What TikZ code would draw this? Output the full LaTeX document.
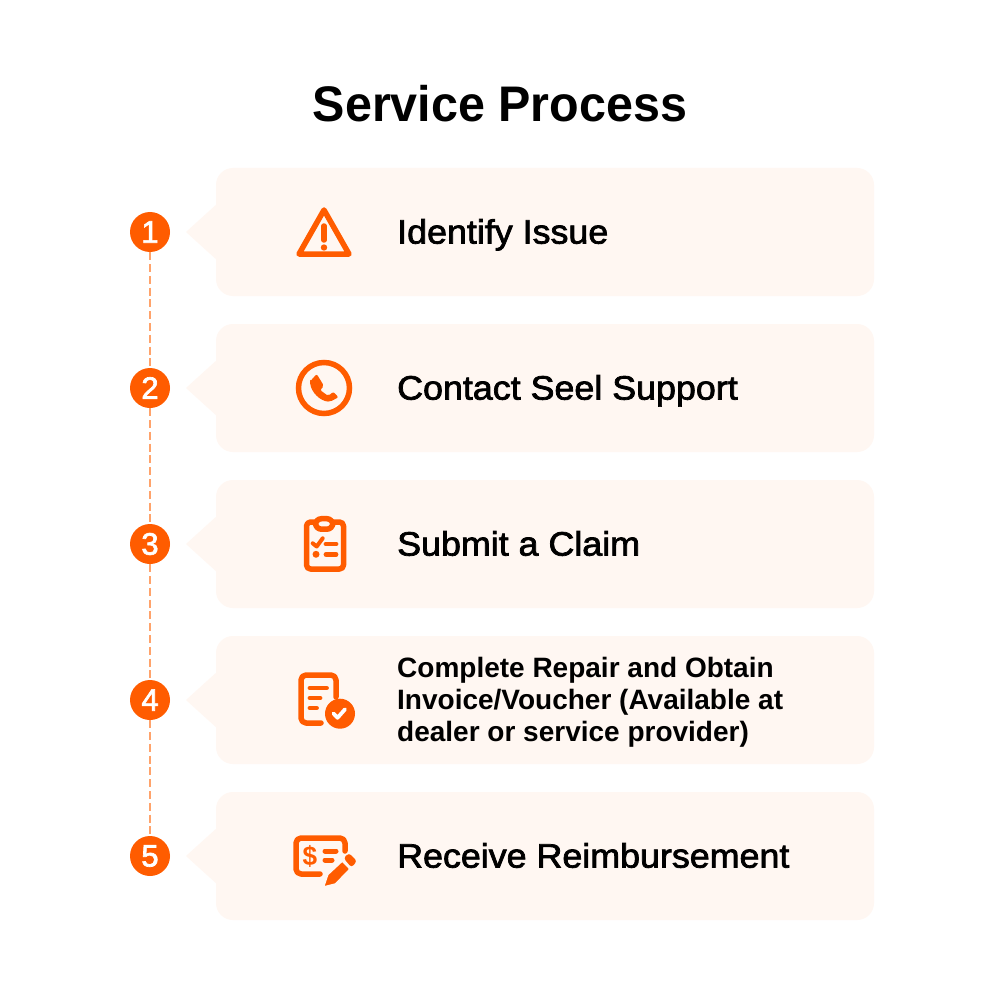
\documentclass[tikz,border=0pt]{standalone}
\usepackage{fontspec}
\usetikzlibrary{calc}
\setmainfont{Liberation Sans}
\newfontfamily\medfont[FakeBold=2.2,FakeStretch=1.06]{Liberation Sans}
\newfontfamily\numfont[FakeBold=2.2]{Liberation Sans}
\newfontfamily\titlefont[FakeStretch=0.969]{Liberation Sans}
\definecolor{org}{HTML}{FF5C00}
\definecolor{cardc}{HTML}{FFF7F2}
\definecolor{dashc}{HTML}{FFA36B}
\tikzset{
  card/.style={fill=cardc,rounded corners=17pt,minimum width=658pt,minimum height=128pt,inner sep=0pt,anchor=center},
  num/.style={circle,fill=org,text=white,minimum size=40pt,inner sep=0pt,font=\numfont\fontsize{31}{31}\selectfont},
  label/.style={anchor=base west,inner sep=0pt,font=\medfont\fontsize{33.8}{33.8}\selectfont},
  dashline/.style={draw=dashc,line width=2pt,dash pattern=on 8pt off 3.8pt},
  ico/.style={draw=org,line width=5.5pt,line join=round,line cap=round},
  ibar/.style={draw=org,line width=4.8pt,line cap=round}
}
\begin{document}
\begin{tikzpicture}[x=1pt,y=-1pt]
\useasboundingbox (0,0) rectangle (1000,1000);
\fill[white] (0,0) rectangle (1000,1000);
\node[anchor=base,inner sep=0pt,font=\titlefont\fontsize{50}{50}\selectfont\bfseries] (title) at (500,122) {Service Process};
% cards
\foreach \i/\y in {1/232,2/388,3/544,4/700,5/856}{
  \node[card] (c\i) at (545,\y) {};
  \coordinate (t\i) at (186,\y);
  \fill[cardc] (t\i) -- ($(c\i.west)+(0,-27)$) -- ($(c\i.west)+(2,-27)$) -- ($(c\i.west)+(2,27)$) -- ($(c\i.west)+(0,27)$) -- cycle;
}
% numbered circles
\foreach \i/\y in {1/232,2/388,3/544,4/700,5/856}{
  \node[num] (n\i) at (150,\y) {\i};
}
\draw[dashline] (n1) -- (n2);
\draw[dashline] (n2) -- (n3);
\draw[dashline] (n3) -- (n4);
\draw[dashline] (n4) -- (n5);
% labels
\node[label] (l1) at (397,243.6) {Identify Issue};
\node[label] (l2) at (397,399.6) {Contact Seel Support};
\node[label] (l3) at (397,555.6) {Submit a Claim};
\node[anchor=west,inner sep=0pt,font=\fontsize{28}{32.4}\selectfont\bfseries,align=left] (l4) at (397,702.3) {Complete Repair and Obtain\\Invoice/Voucher (Available at\\dealer or service provider)};
\node[label] (l5) at (397,867.6) {Receive Reimbursement};
% warning icon
\draw[ico] (324,210) -- (349,254) -- (299,254) -- cycle;
\draw[ico] (324,226) -- (324,240);
\fill[org] (324,247.5) circle (3.2pt);
% phone icon
\draw[org,line width=5.5pt] (324,388) circle (25.5pt);
\fill[org,rounded corners=2pt] (310,381.5) -- (316.7,374) -- (324,386) -- (320,390) -- (328.3,396) -- (333.3,391.7) -- (338.5,397.3) -- (330,401.7) .. controls (320,401) and (311,392) .. cycle;
% clipboard icon
\draw[ico,rounded corners=4pt] (306.5,522) rectangle (343.5,569);
\draw[ico,fill=cardc,rounded corners=6pt] (315.5,518.7) rectangle (332.8,529.2);
\draw[draw=org,line width=4pt,line cap=round,line join=round] (312.7,543.3) -- (316.7,546.5) -- (322.7,538.3);
\draw[ibar] (326,544) -- (336,544);
\fill[org] (316,554.3) circle (3.5pt);
\draw[ibar] (326,554.3) -- (336,554.3);
% document icon
\draw[ico,rounded corners=5pt] (336,697) -- (336,675) -- (301,675) -- (301,723) -- (321,723);
\draw[ibar] (310,688) -- (326.5,688);
\draw[ibar] (310,698) -- (320,698);
\draw[ibar] (310,708) -- (316.5,708);
\fill[org] (340,713.7) circle (15pt);
\draw[white,line width=3.8pt,line cap=round,line join=round] (333.5,713.5) -- (337.5,717.8) -- (345,709.3);
% cheque icon
\draw[ico,rounded corners=5pt] (345,851) -- (345,838) -- (296,838) -- (296,874) -- (320,874);
\node[text=org,inner sep=0pt,font=\titlefont\fontsize{27}{27}\selectfont\bfseries] (dollar) at (310,856) {\$};
\draw[draw=org,line width=5pt,line cap=round] (325,851) -- (336,851);
\draw[draw=org,line width=5pt,line cap=round] (325,860) -- (332,860);
\fill[org,draw=cardc,line width=1.5pt,line join=round] (323.5,887) -- (327.8,874.5) -- (342.3,861) -- (350,869) -- (335.5,884) -- cycle;
\fill[org,rounded corners=3pt] (343.5,858) -- (349,853) -- (357,861) -- (351.5,867.5) -- cycle;
\end{tikzpicture}
\end{document}
